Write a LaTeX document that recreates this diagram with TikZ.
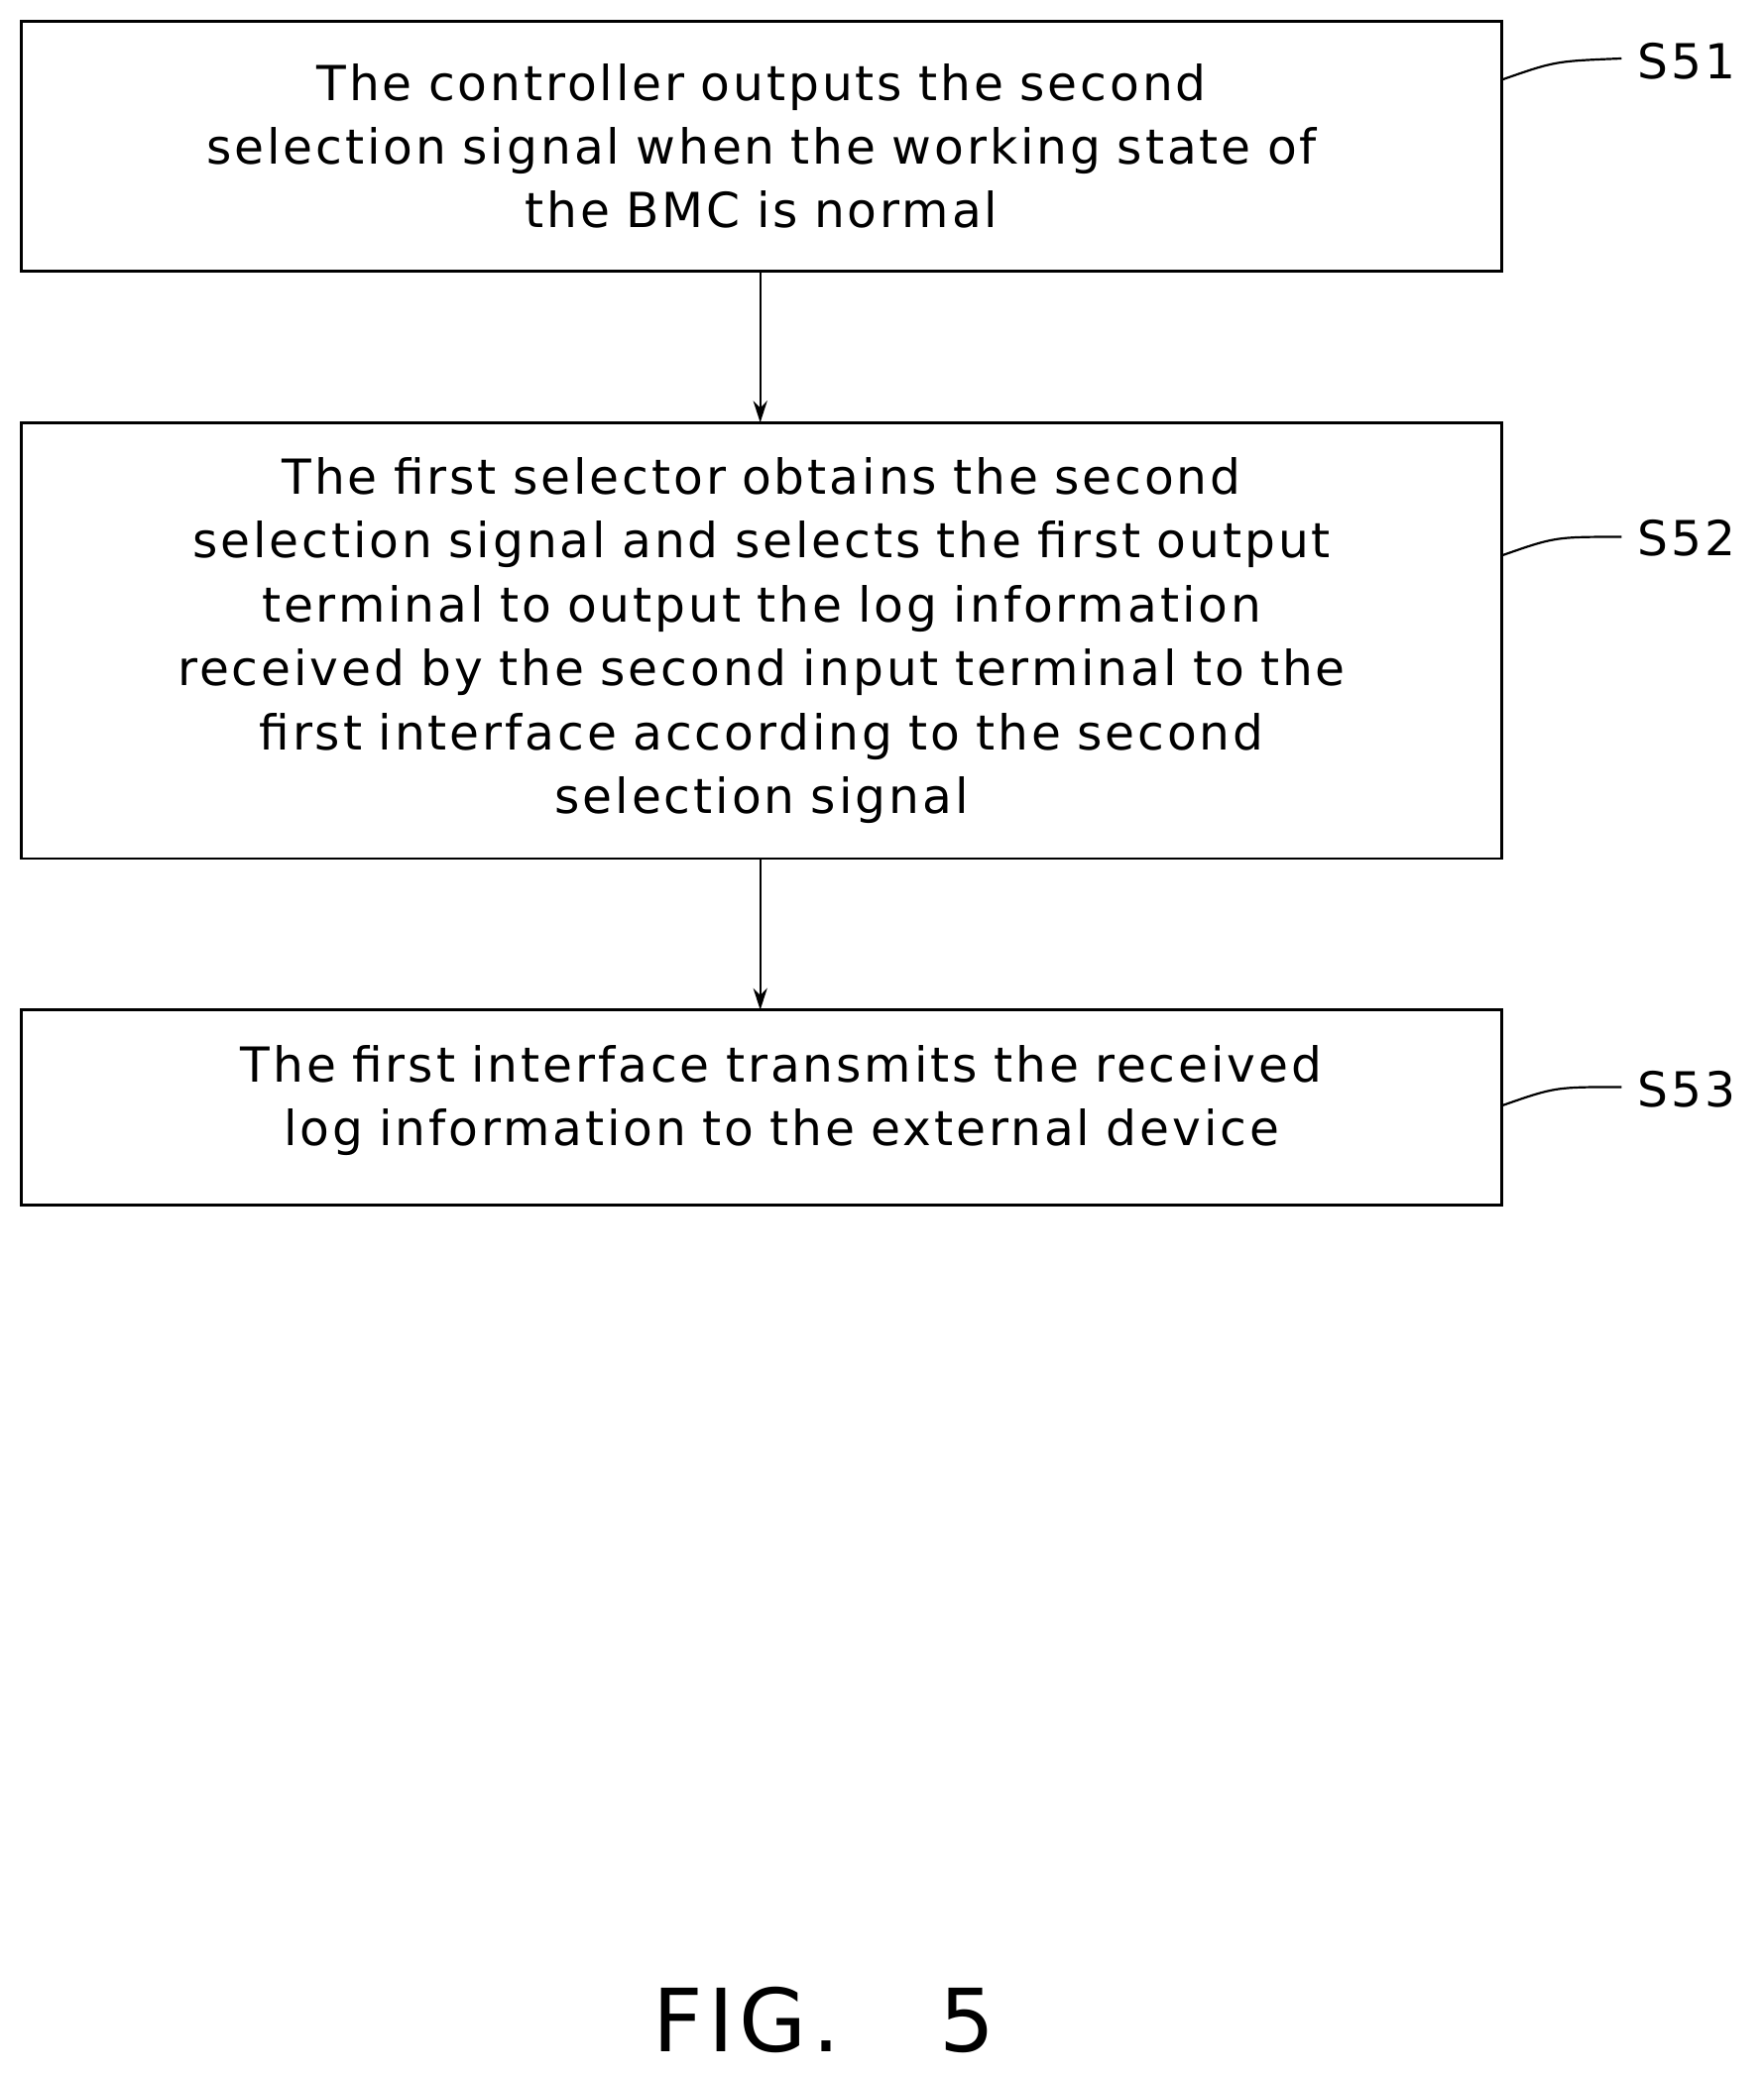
\documentclass[tikz,border=0pt]{standalone}
\usetikzlibrary{arrows.meta}
\usepackage{fontspec}
\setmainfont[WordSpace={3,1,1},LetterSpace=6]{DejaVu Sans}
\begin{document}
\begin{tikzpicture}[x=0.03cm,y=-0.03cm,
  box/.style={draw,line width=1.6pt,inner sep=0pt},
  txt/.style={align=center,font=\fontsize{31}{41}\selectfont,text width=33cm},
  lbl/.style={font=\fontsize{31}{41}\selectfont,anchor=west},
  arr/.style={line width=1.4pt,-{Stealth[length=14pt,width=9pt]}}]
\useasboundingbox (0,0) rectangle (1327,1563);
\draw[box] (16,16) rectangle (1130,204);
\draw[box] (16,318) rectangle (1130,646);
\draw[box] (16,760) rectangle (1130,907);
\node[txt] (t1) at (573,110) {The controller outputs the second\\selection signal when the working state of\\the BMC is normal};
\node[txt] (t2) at (573,482) {The first selector obtains the second\\selection signal and selects the first output\\terminal to output the log information\\received by the second input terminal to the\\first interface according to the second\\selection signal};
\node[txt] (t3) at (588,828) {The first interface transmits the received\\log information to the external device};
\coordinate (a1) at (572,204); \coordinate (b1) at (572,318);
\coordinate (a2) at (572,646); \coordinate (b2) at (572,760);
\draw[arr] (a1) -- (b1);
\draw[arr] (a2) -- (b2);
\node[lbl] (s1) at (1228,46) {S51};
\node[lbl] (s2) at (1228,405) {S52};
\node[lbl] (s3) at (1228,820) {S53};
\draw[line width=1.4pt] (1130,60) .. controls (1170,46) .. (1220,44);
\draw[line width=1.4pt] (1130,418) .. controls (1170,404) .. (1220,404);
\draw[line width=1.4pt] (1130,832) .. controls (1170,818) .. (1220,818);
\node[font=\fontsize{56}{64}\selectfont] (fig) at (620,1520) {FIG. 5};
\end{tikzpicture}
\end{document}
